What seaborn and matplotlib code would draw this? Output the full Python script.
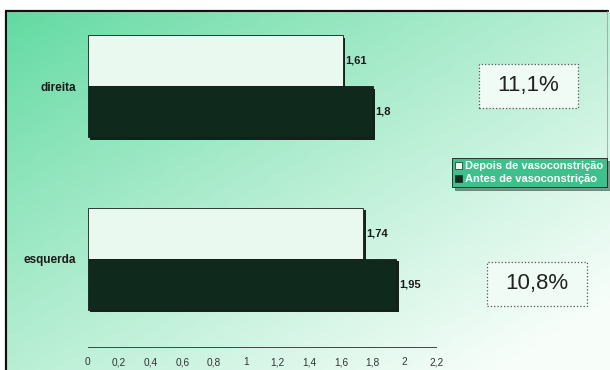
import numpy as np
import pandas as pd
import matplotlib.pyplot as plt
import matplotlib.patches as mpatches
import matplotlib.patheffects as pe
import seaborn as sns

# Daten
lados = ["direita", "esquerda"]
depois = [1.61, 1.74]
antes = [1.8, 1.95]
reducao = ["11,1%", "10,8%"]
momentos = ["Depois de vasoconstrição", "Antes de vasoconstrição"]
xticks = [0, 0.2, 0.4, 0.6, 0.8, 1, 1.2, 1.4, 1.6, 1.8, 2, 2.2]

# Farben
colors = {
    "depois": "#eaf9ef",
    "antes": "#0f291d",
    "legend_bg": "#3ec08c",
    "bg_green": (0.36, 0.85, 0.62),
    "bg_white": (0.97, 0.995, 0.98),
}

df = pd.DataFrame({
    "lado": lados * 2,
    "valor": depois + antes,
    "momento": [momentos[0]] * len(lados) + [momentos[1]] * len(lados),
})

sns.set_style("white")
plt.rcParams["font.family"] = ["Liberation Sans", "DejaVu Sans"]

fig = plt.figure(figsize=(6.1, 3.7), dpi=100)

# Hintergrund mit Farbverlauf
bg = fig.add_axes([0, 0, 1, 1], zorder=-10)
xx, yy = np.meshgrid(np.linspace(0, 1, 300), np.linspace(0, 1, 200))
t = np.clip(0.55 * xx + 0.55 * yy, 0, 1) ** 0.9
grad = (np.array(colors["bg_green"])[None, None, :] * (1 - t[..., None])
        + np.array(colors["bg_white"])[None, None, :] * t[..., None])
bg.imshow(grad, aspect="auto", extent=[0, 1, 0, 1], origin="upper")
bg.set_xlim(0, 1)
bg.set_ylim(0, 1)
bg.axis("off")
# weisser Rand oben/links + Rahmen
bg.add_patch(mpatches.Rectangle((0, 1 - 11 / 370), 1, 11 / 370, color="white", zorder=2))
bg.add_patch(mpatches.Rectangle((0, 0), 6 / 610, 1, color="white", zorder=2))
bg.plot([6 / 610, 608 / 610], [1 - 11 / 370] * 2, color="#111111", lw=1.6, zorder=3)
bg.plot([6 / 610] * 2, [0, 1 - 11 / 370], color="#111111", lw=1.6, zorder=3)
bg.plot([607 / 610] * 2, [0.55, 1 - 11 / 370], color="#9aa8a0", lw=0.6, zorder=3)

# Balkendiagramm
ax = fig.add_axes([87.5 / 610, 23 / 370, 348.5 / 610, 336 / 370])
ax.patch.set_alpha(0)
sns.barplot(data=df, y="lado", x="valor", hue="momento", hue_order=momentos,
            palette=[colors["depois"], colors["antes"]], orient="h", width=0.59,
            edgecolor="#1a1a1a", linewidth=0.6, saturation=1, ax=ax)

for bar in ax.patches:
    bar.set_path_effects([pe.SimplePatchShadow(offset=(1.8, -1.8), shadow_rgbFace="#0a1810", alpha=0.95),
                          pe.Normal()])

for c in ax.containers:
    ax.bar_label(c, labels=[str(v).replace(".", ",") for v in c.datavalues],
                 padding=2, fontsize=8, fontweight="bold", color="#1a1a1a")

ax.set_xlim(0, 2.2)
ax.set_ylim(1.509, -0.434)
ax.set_xticks(xticks)
ax.set_xticklabels([str(v).replace(".", ",") for v in xticks], fontsize=7.3, color="#333333")
ax.tick_params(axis="x", direction="inout", length=3, width=0.6, color="#444444", pad=6)
ax.tick_params(axis="y", length=0, pad=8)
for lab in ax.get_yticklabels():
    lab.set_fontweight("bold")
    lab.set_fontsize(8.5)
    lab.set_color("#1a1a1a")
ax.set_xlabel("")
ax.set_ylabel("")
for side in ["top", "right", "left"]:
    ax.spines[side].set_visible(False)
ax.spines["bottom"].set_color("#444444")
ax.spines["bottom"].set_linewidth(0.7)

# Legende
handles = [mpatches.Patch(facecolor=colors["depois"], edgecolor="#222222", lw=0.5),
           mpatches.Patch(facecolor=colors["antes"], edgecolor="#222222", lw=0.5)]
leg = ax.legend(handles, momentos, loc="upper left", bbox_to_anchor=(452 / 610, 1 - 158 / 370),
                bbox_transform=fig.transFigure, frameon=True, fancybox=False, shadow=True,
                handlelength=0.6, handleheight=0.6, handletextpad=0.3, labelspacing=0.25,
                borderpad=0.3, borderaxespad=0, prop={"weight": "bold", "size": 8.0})
leg.get_frame().set_facecolor(colors["legend_bg"])
leg.get_frame().set_edgecolor("#1a1a1a")
leg.get_frame().set_linewidth(0.6)
leg.get_frame().set_alpha(1)
for txt in leg.get_texts():
    txt.set_color("white")

# Prozent-Kästen
boxes = [(479, 64, 99, 44), (487, 262, 100, 44)]
for (bx, by, bw, bh), txt in zip(boxes, reducao):
    fig.patches.append(mpatches.Rectangle((bx / 610, 1 - (by + bh) / 370), bw / 610, bh / 370,
                                          transform=fig.transFigure, facecolor="#effbf4",
                                          edgecolor="#555555", linestyle=":", lw=0.9, zorder=5))
    fig.text((bx + bw / 2) / 610, 1 - (by + bh / 2) / 370, txt, ha="center", va="center",
             fontsize=16, color="#222222", zorder=6)

plt.savefig("out.png", dpi=100)
